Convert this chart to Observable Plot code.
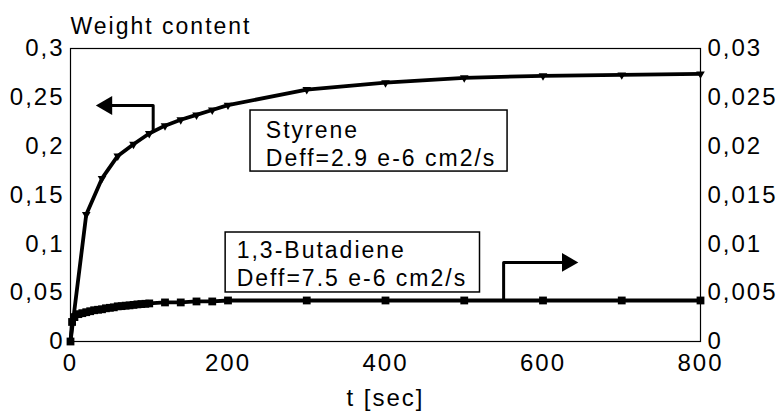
<!DOCTYPE html>
<html><head><meta charset="utf-8">
<script src="https://cdn.jsdelivr.net/npm/d3@7"></script>
<script src="https://cdn.jsdelivr.net/npm/@observablehq/plot@0.6"></script>
<style>body{margin:0;background:#fff;}</style>
</head><body><div id="chart"></div>
<script>
// Styrene (left axis)
const timesSty = [0,20,40,60,80,100,120,140,160,180,200,300,400,500,600,700,800];
const styrene = [0,0.130,0.167,0.190,0.202,0.213,0.221,0.227,0.232,0.237,0.242,0.258,0.265,0.270,0.272,0.273,0.274];
// 1,3-Butadiene (right axis)
const timesBut = [0,2,5,10,15,20,25,30,35,40,45,50,55,60,65,70,75,80,85,90,95,100,120,140,160,180,200,300,400,500,600,700,800];
const butadiene = [0,0.0020,0.0025,0.0028,0.0029,0.0030,0.0031,0.0032,0.00325,0.0033,0.0034,0.00345,0.0035,0.0036,0.00362,0.00367,0.0037,0.00375,0.0038,0.00383,0.00386,0.0039,0.0040,0.0040,0.0041,0.0041,0.0042,0.0042,0.0042,0.0042,0.0042,0.0042,0.0042];
// axes
const xTicks = [0,200,400,600,800];
const leftTicks = [0,0.05,0.1,0.15,0.2,0.25,0.3];
const leftLabels = ["0","0,05","0,1","0,15","0,2","0,25","0,3"];
const rightLabels = ["0","0,005","0,01","0,015","0,02","0,025","0,03"];
const RATIO = 10; // left value = right value * 10
// annotations
const boxX1 = [228.6, 197];
const boxX2 = [555, 520];
const boxY1 = [0.174, 0.0502];
const boxY2 = [0.2365, 0.1116];
const labelText = ["Styrene\nDeff=2.9 e-6 cm2/s", "1,3-Butadiene\nDeff=7.5 e-6 cm2/s"];
const labelT = [248, 211];
const labelY = [0.2283, 0.1055];
const styArrowT = [105,105,46];
const styArrowY = [0.215,0.2416,0.2416];
const butArrowT = [550,550,631];
const butArrowY = [0.0042,0.0081,0.0081]; // right-axis units

const styData = timesSty.map((t,i)=>({t, v: styrene[i]}));
const butData = timesBut.map((t,i)=>({t, v: butadiene[i]}));
const boxes = boxX1.map((x1,i)=>({x1, x2: boxX2[i], y1: boxY1[i], y2: boxY2[i]}));
const labels = labelText.map((s,i)=>({s, t: labelT[i], y: labelY[i]}));
const styArrow = styArrowT.map((t,i)=>({t, y: styArrowY[i]}));
const butArrow = butArrowT.map((t,i)=>({t, y: butArrowY[i]*RATIO}));
const idx = d => leftTicks.findIndex(v => Math.abs(v-d) < 1e-9);

const chart = Plot.plot({
  width: 778, height: 411,
  marginLeft: 70, marginRight: 78, marginTop: 48, marginBottom: 70,
  style: "font-family:'Liberation Sans', Arial, sans-serif; font-size:24px; letter-spacing:2px; background:white; color:black;",
  x: {domain: [0, 800]},
  y: {domain: [0, 0.3]},
  marks: [
    Plot.axisY({ticks: leftTicks, tickSize: 0, tickPadding: 6, tickFormat: d => leftLabels[idx(d)], label: null}),
    Plot.axisY({anchor: "right", ticks: leftTicks, tickSize: 0, tickPadding: 7, tickFormat: d => rightLabels[idx(d)], label: null}),
    Plot.axisX({ticks: xTicks, tickSize: 0, tickPadding: 12, tickFormat: d => String(d), label: null}),
    Plot.frame({stroke: "black", strokeWidth: 1.2}),
    // styrene
    Plot.line(styData, {x: "t", y: "v", stroke: "black", strokeWidth: 3.8}),
    Plot.dot(styData.slice(1), {x: "t", y: "v", symbol: "triangle", r: 3.2, fill: "black", rotate: 180}),
    // butadiene
    Plot.line(butData, {x: "t", y: d => d.v * RATIO, stroke: "black", strokeWidth: 3.8}),
    Plot.dot(butData, {x: "t", y: d => d.v * RATIO, symbol: "square", r: 4.4, fill: "black"}),
    // arrows
    Plot.line(styArrow, {x: "t", y: "y", stroke: "black", strokeWidth: 3}),
    Plot.dot(styArrow.slice(-1), {x: "t", y: "y", symbol: "triangle", r: 7, fill: "black", rotate: -90}),
    Plot.line(butArrow, {x: "t", y: "y", stroke: "black", strokeWidth: 3}),
    Plot.dot(butArrow.slice(-1), {x: "t", y: "y", symbol: "triangle", r: 7, fill: "black", rotate: 90}),
    // boxes & labels
    Plot.rect(boxes, {x1: "x1", x2: "x2", y1: "y1", y2: "y2", fill: "white", stroke: "black", strokeWidth: 1.5}),
    Plot.text(labels, {x: "t", y: "y", text: "s", textAnchor: "start", lineAnchor: "top", fontSize: 23, lineHeight: 1.2, fill: "black"}),
    // titles
    Plot.text(["Weight content"], {text: d => d, frameAnchor: "top-left", dy: -31, textAnchor: "start", lineAnchor: "top", fontSize: 23, fill: "black"}),
    Plot.text(["t [sec]"], {text: d => d, frameAnchor: "bottom", dy: 47, lineAnchor: "top", fontSize: 24, fill: "black"})
  ]
});
document.getElementById("chart").appendChild(chart);
</script>
</body></html>
